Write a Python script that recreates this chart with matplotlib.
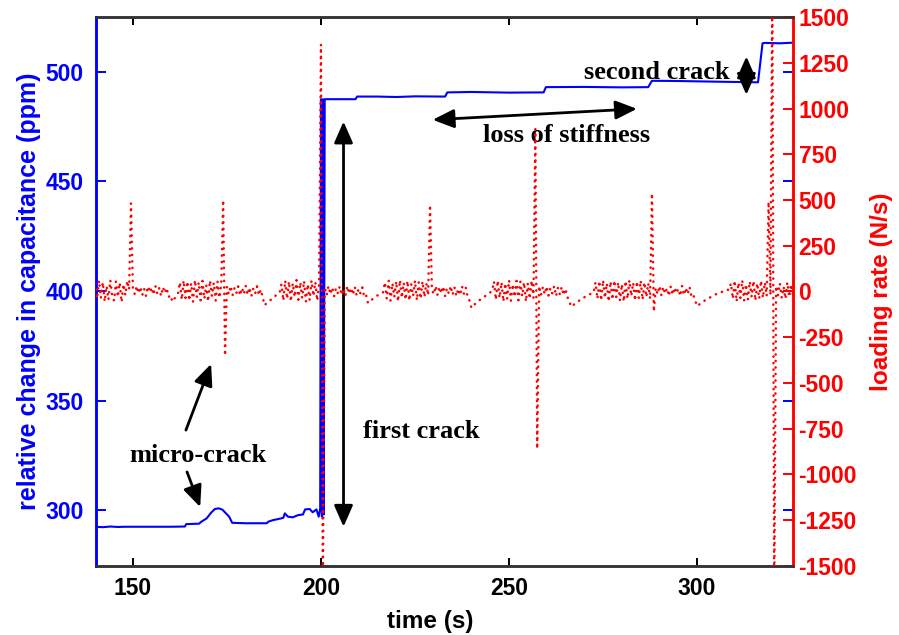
import numpy as np
import matplotlib
matplotlib.use("Agg")
import matplotlib.pyplot as plt

# capacitance trace (time s, ppm) - breakpoints
cap_t = [140, 142, 144, 146, 148, 150, 155, 160, 163.8, 164.2, 167.6, 168.2,
         169.6, 170.8, 171.8, 172.8, 173.8, 174.8, 175.6, 176.4, 180, 185.6,
         186.0, 187.2, 189.4, 190.0, 190.4, 191.2, 192.5, 193.9, 195.2, 195.8,
         197.0, 197.8, 198.8, 199.4, 199.8, 200.0, 200.25, 200.5, 200.75,
         201.0, 205, 209.2, 209.6, 215, 220, 225, 233.0, 233.6, 240, 250,
         259.2, 259.8, 270, 280, 287.0, 288.0, 295, 305, 316.2, 317.4, 318,
         322, 325.5]
cap_v = [292.4, 292.2, 292.5, 292.3, 292.4, 292.4, 292.4, 292.4, 292.5, 293.6,
         293.8, 294.7, 296.2, 298.8, 300.5, 300.8, 300.2, 298.4, 297.0, 294.2,
         294.0, 294.0, 294.7, 295.4, 296.2, 296.5, 298.5, 297.0, 296.7, 297.7,
         298.0, 300.3, 300.5, 299.0, 300.3, 297.0, 300.8, 487.5, 297, 487.5,
         298, 487.5, 487.5, 487.5, 488.7, 488.7, 488.5, 488.8, 488.7, 490.6,
         490.8, 490.5, 490.6, 493.0, 493.1, 492.9, 493.0, 495.9, 495.8, 495.5,
         495.2, 513.0, 513.2, 513.0, 513.3]

# loading rate (N/s), sampled every 0.5 s from 140 s, one row = 5 s
rate_t0, rate_dt = 140.0, 0.5
rate_v = [
    45, -40, 60, -35, 50, -55, 30, -45, 62, -25,          # 140
    -50, 55, -30, 48, -58, 40, -20, 58, 10, 482,          # 145
    20, -15, 30, -10, 25, -20, 15, -25, 28, -5,           # 150
    22, -18, 30, -12, 18, -25, 24, -8, 20, -30,           # 155
    -20, -56, -40, -25, -10, 50, -45, 60, -35, 55,        # 160
    -50, 45, -55, 62, -30, 50, -48, 58, -40, 35,          # 165
    -55, 60, -25, 48, -50, 55, -35, 40, 500, -350,        # 170
    25, -15, 30, -20, 18, -10, 28, -22, 20, -15,          # 175
    30, -18, 22, -25, 15, -12, 28, -20, 10, -30,          # 180
    -75, -65, -55, -48, -40, -30, -22, -15, -8, 40,       # 185
    -50, 60, -40, 55, -55, 45, -30, 62, -45, 50,          # 190
    -35, 58, -55, 40, -48, 60, -25, 52, -50, 40,          # 195
    1350, -1700, 25, -20, 30, -15, 22, -25, 18, -10,      # 200
    28, -20, 15, -25, 30, -12, 20, -18, 25, -22,          # 205
    15, -10, 22, -30, -20, -63, -55, -45, -38, -30,       # 210
    -22, -15, -10, -5, 50, -40, 60, -50, 45, -30,         # 215
    55, -55, 62, -35, 48, -45, 58, -50, 40, -25,          # 220
    60, -48, 50, -40, 55, -30, 45, -20, 473, 10,          # 225
    -15, 30, -20, 25, -10, 28, -25, 18, -12, 30,          # 230
    -18, 22, -25, 15, -20, 28, -12, 20, -30, -50,         # 235
    -90, -78, -68, -58, -50, -42, -35, -28, -20, -12,     # 240
    -5, 5, 55, -45, 60, -35, 50, -55, 45, -40,            # 245
    62, -50, 40, -30, 58, -48, 55, -25, 50, -55,          # 250
    45, -40, 60, -35, 890, -860, 30, -20, 25, -15,        # 255
    28, -22, 18, -10, 30, -25, 20, -15, 25, -20,          # 260
    15, -30, -50, -83, -75, -68, -60, -52, -45, -38,      # 265
    -32, -25, -20, -15, -10, -5, 50, -40, 58, -50,        # 270
    62, -35, 45, -55, 55, -45, 60, -30, 50, -50,          # 275
    40, -55, 58, -40, 62, -25, 48, -50, 55, -35,          # 280
    60, -45, 50, -30, 45, -40, 536, -110, 20, -15,        # 285
    30, -20, 25, -12, 18, -25, 28, -18, 22, -10,          # 290
    15, -25, 30, -20, 20, -15, 25, -30, -20, -50,         # 295
    -80, -72, -65, -58, -50, -44, -38, -32, -26, -20,     # 300
    -15, -10, -6, -3, 0, 5, 10, 8, 45, -40,               # 305
    60, -55, 48, -35, 62, -50, 40, -45, 55, -30,          # 310
    58, -50, 45, -40, 60, -35, 50, -25, 490, -20,         # 315
    1700, -1700, 30, -20, 45, -35, 25, -40, 50, -30,      # 320
    40, -25,                                              # 325
]
rate_t = rate_t0 + rate_dt * np.arange(len(rate_v))

cap_ticks = [300, 350, 400, 450, 500]
rate_ticks = list(range(-1500, 1501, 250))
time_ticks = [150, 200, 250, 300]

BLUE = "#0000ff"
RED = "#ff0000"
plt.rcParams["font.family"] = ["Liberation Sans", "DejaVu Sans"]
plt.rcParams["axes.unicode_minus"] = False

fig = plt.figure(figsize=(8.99, 6.35), dpi=100)
ax1 = fig.add_axes([0.1068, 0.1087, 0.7753, 0.8645])
ax2 = ax1.twinx()

ax1.plot(cap_t, cap_v, color=BLUE, lw=1.5, zorder=2)
ax2.plot(rate_t, rate_v, color=RED, lw=1.8, ls=(0, (0.1, 2.5)),
         dash_capstyle="round", zorder=3)

ax1.set_xlim(140.2, 325.5)
ax1.set_ylim(274.5, 525)
ax2.set_ylim(-1500, 1500)
ax1.set_xticks(time_ticks)
ax1.set_yticks(cap_ticks)
ax2.set_yticks(rate_ticks)

ax1.tick_params(axis="x", direction="in", length=6, width=1.4, top=True,
                labelsize=16.5, pad=8, colors="black")
ax1.tick_params(axis="y", direction="in", length=7, width=1.4, right=True,
                colors=BLUE, labelsize=16.5, pad=9)
ax2.tick_params(axis="y", direction="in", length=7, width=1.4,
                colors=RED, labelsize=16.5, pad=4)
for lab in ax1.get_xticklabels() + ax1.get_yticklabels() + ax2.get_yticklabels():
    lab.set_fontweight("bold")

for ax in (ax1, ax2):
    for s in ax.spines.values():
        s.set_linewidth(1.8)
    ax.spines["top"].set_color("#333333")
    ax.spines["bottom"].set_color("#333333")
    ax.spines["left"].set_color(BLUE)
    ax.spines["right"].set_color(RED)

ax1.set_xlabel("time (s)", fontsize=17.5, fontweight="bold")
ax1.set_ylabel("relative change in capacitance (ppm)", color=BLUE,
               fontsize=18, fontweight="bold")
ax2.set_ylabel("loading rate (N/s)", color=RED, rotation=90,
               fontsize=17.5, fontweight="bold")
ax1.xaxis.set_label_coords(0.479, -0.08)
ax1.yaxis.set_label_coords(-0.079, 0.5)
ax2.yaxis.set_label_coords(1.1105, 0.5)

# annotations
afont = dict(family=["Liberation Serif", "DejaVu Serif"], fontsize=19,
             fontweight="bold", ha="center", va="center")
dbl = dict(arrowstyle="<|-|>,head_length=0.5,head_width=0.22", color="black",
           lw=2, mutation_scale=26, shrinkA=0, shrinkB=0)
one = dict(arrowstyle="-|>,head_length=0.5,head_width=0.22", color="black",
           lw=2, mutation_scale=26, shrinkA=0, shrinkB=0)

ax1.text(167.3, 325.1, "micro-crack", **afont)
ax1.text(226.6, 336.0, "first crack", **afont)
ax1.text(265.2, 470.8, "loss of stiffness", **afont)
ax1.text(289.4, 499.5, "second crack", **afont)

ax1.annotate("", xy=(170.8, 366.7), xytext=(164.1, 336.5), arrowprops=one)
ax1.annotate("", xy=(167.9, 301.4), xytext=(164.4, 317.4), arrowprops=one)
ax1.annotate("", xy=(206.0, 477.3), xytext=(206.0, 292.4), arrowprops=dbl)
ax1.annotate("", xy=(229.7, 478.1), xytext=(284.0, 483.1), arrowprops=dbl)
ax1.annotate("", xy=(313.1, 507.0), xytext=(313.1, 489.5), arrowprops=dbl)

fig.savefig("out.png", dpi=100)
